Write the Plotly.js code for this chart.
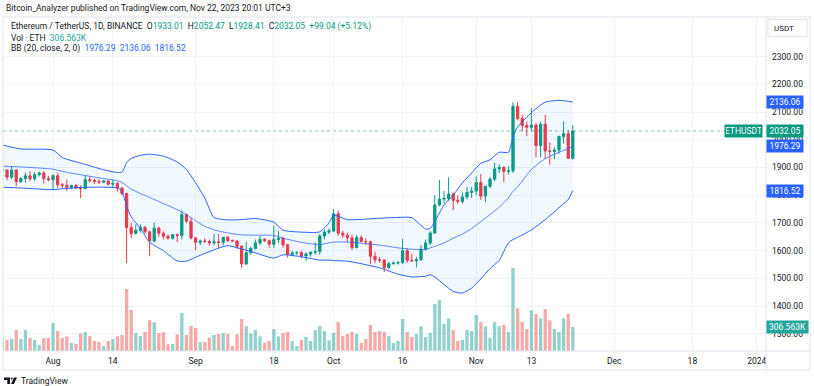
<!DOCTYPE html>
<html><head><meta charset="utf-8">
<script src="https://cdn.plot.ly/plotly-3.0.1.min.js"></script>
<style>html,body{margin:0;padding:0;background:#fff;}#chart{width:814px;height:386px;}</style>
</head><body><div id="chart"></div>
<script>
// ---- data (ETH/USDT daily, Jul 21 - Nov 22 2023) ----
const firstDay = '2023-07-21';
const opens = [
 1889,1891,1865,1891,1849,1860,1870,1859,1874,1880,1860,
 1856,1870,1838,1836,1828,1835,1826,1824,1856,1853,1850,1847,1851,1840,1843,1826,1806,1684,1662,1674,1684,1668,1635,1681,1663,1652,1645,1658,1654,1730,1706,
 1646,1630,1635,1633,1628,1632,1630,1648,1636,1635,1616,1552,1593,1608,1628,1641,1636,1623,1640,1645,1621,1586,1592,1593,1581,1588,1594,1597,1653,1667,
 1671,1733,1663,1656,1646,1611,1647,1633,1632,1580,1567,1566,1539,1553,1555,1557,1600,1565,1563,1567,1605,1628,1664,1765,1786,1788,1804,1782,1777,1794,1810,
 1815,1846,1797,1832,1858,1895,1900,1886,1888,2121,2077,2052,2045,2053,1979,2056,1960,1958,1963,2012,2022,1933.01];
const highs = [
 1907,1894,1905,1893,1866,1882,1887,1884,1885,1887,1870,
 1875,1880,1844,1856,1838,1841,1836,1873,1868,1860,1857,1855,1855,1856,1847,1830,1809,1700,1695,1695,1690,1672,1700,1687,1670,1658,1660,1662,1746,1734,1720,
 1650,1640,1645,1640,1660,1660,1650,1653,1640,1638,1620,1631,1614,1640,1653,1645,1640,1690,1670,1650,1625,1600,1598,1600,1594,1597,1630,1660,1676,1680,
 1750,1745,1672,1665,1658,1657,1655,1645,1636,1595,1578,1570,1560,1562,1563,1642,1610,1590,1578,1620,1640,1670,1800,1855,1815,1865,1810,1800,1810,1830,1830,
 1868,1876,1835,1865,1916,1912,1906,1905,2135,2136,2090,2066,2114,2060,2064,2090,1991,1972,2015,2067,2035,2052.47];
const lows = [
 1882,1854,1858,1833,1845,1845,1850,1852,1868,1842,1850,
 1819,1827,1826,1815,1822,1822,1790,1820,1845,1840,1840,1844,1835,1830,1813,1800,1555,1645,1658,1665,1660,1580,1630,1650,1640,1641,1640,1630,1640,1700,1640,
 1602,1620,1628,1618,1620,1610,1620,1630,1630,1605,1537,1548,1585,1605,1620,1630,1610,1610,1628,1610,1575,1580,1585,1572,1562,1578,1585,1585,1640,1660,
 1667,1653,1645,1630,1602,1608,1630,1620,1551,1555,1555,1523,1535,1550,1550,1553,1555,1560,1540,1563,1600,1620,1660,1760,1770,1780,1746,1770,1770,1785,1790,
 1800,1783,1775,1825,1850,1880,1847,1875,1880,2070,2030,2013,2030,1937,1937,1932,1910,1930,1950,1986,1931,1928.41];
const closes = [
 1891,1865,1891,1849,1860,1870,1859,1874,1880,1860,1856,
 1870,1838,1836,1828,1835,1826,1824,1856,1853,1850,1847,1851,1840,1843,1826,1806,1684,1662,1674,1684,1668,1635,1681,1663,1652,1645,1658,1654,1730,1706,1646,
 1630,1635,1633,1628,1632,1630,1648,1636,1635,1616,1552,1593,1608,1628,1641,1636,1623,1640,1645,1621,1586,1592,1593,1581,1588,1594,1597,1653,1667,1671,
 1733,1663,1656,1646,1611,1647,1633,1632,1580,1567,1566,1539,1553,1555,1557,1600,1565,1563,1567,1605,1628,1664,1765,1786,1788,1804,1782,1777,1794,1810,1815,
 1846,1797,1832,1858,1895,1900,1886,1888,2121,2077,2052,2045,2053,1979,2056,1960,1958,1963,2012,2022,1933.01,2032.05];
const volumesK = [
 170,140,153,268,153,268,166,140,77,162,166,
 358,255,166,187,102,89,221,243,191,128,115,64,128,153,187,204,792,524,230,191,243,392,366,230,238,85,89,213,485,204,319,
 294,111,115,166,204,217,230,217,64,213,409,319,221,268,187,102,128,281,187,230,243,128,64,140,179,128,268,319,255,136,
 230,370,191,217,243,217,102,153,332,243,255,243,191,102,128,409,243,179,217,315,179,230,600,651,345,417,268,128,140,268,255,
 460,370,315,166,370,319,332,243,1060,545,370,281,519,472,417,536,392,281,243,417,472,306.563];

const bbDates = ['2023-07-21','2023-07-25','2023-08-01','2023-08-03','2023-08-07','2023-08-12','2023-08-15','2023-08-16','2023-08-17','2023-08-18','2023-08-20','2023-08-22','2023-08-25','2023-08-28','2023-08-30','2023-09-01','2023-09-03','2023-09-05','2023-09-08','2023-09-11','2023-09-14','2023-09-18','2023-09-20','2023-09-24','2023-09-28','2023-09-30','2023-10-01','2023-10-04','2023-10-11','2023-10-15','2023-10-18','2023-10-21','2023-10-22','2023-10-23','2023-10-25','2023-10-27','2023-10-29','2023-10-31','2023-11-02','2023-11-04','2023-11-06','2023-11-08','2023-11-09','2023-11-10','2023-11-13','2023-11-16','2023-11-19','2023-11-21','2023-11-22'];
const bbUpper = [1981,1967,1963,1936,1916,1892,1882,1884,1918,1933,1944,1948,1941,1920,1893,1845,1790,1720,1711,1712,1716,1703,1674,1667,1668,1700,1728,1712,1717,1720,1719,1678,1680,1705,1765,1800,1845,1880,1915,1928,1955,1955,2010,2046,2098,2136,2142,2139,2136.06];
const bbBasis = [1905,1902,1894,1886,1874,1860,1852,1846,1834,1822,1806,1792,1770,1748,1730,1708,1688,1675,1664,1657,1656,1655,1645,1630,1622,1628,1631,1631,1620,1610,1605,1605,1610,1615,1628,1645,1660,1680,1705,1730,1757,1790,1814,1830,1893,1932,1955,1968,1976.29];
const bbLower = [1829,1826,1820,1823,1828,1829,1826,1813,1760,1722,1680,1630,1600,1563,1562,1576,1590,1603,1618,1606,1592,1573,1585,1578,1566,1566,1564,1562,1538,1515,1505,1508,1513,1505,1478,1453,1447,1465,1498,1535,1565,1628,1640,1648,1675,1712,1755,1785,1816.52];

const xTickVals = ['2023-08-01','2023-08-14','2023-09-01','2023-09-18','2023-10-01','2023-10-16','2023-11-01','2023-11-13','2023-12-01','2023-12-18','2024-01-01'];
const xTickText = ['Aug','14','Sep','18','Oct','16','Nov','13','Dec','18','2024'];
const yTickVals = [1300,1400,1500,1600,1700,1800,1900,2000,2100,2200,2300];

// ---- derived ----
const dates = [];
{ const t0 = Date.parse(firstDay + 'T00:00:00Z');
  for (let i = 0; i < closes.length; i++) dates.push(new Date(t0 + i*86400000).toISOString().slice(0,10)); }
const GREEN = '#089981', RED = '#f23645', BLUE = '#2962ff', TXT = '#131722', FRAME = '#e0e3eb';
const volColors = closes.map((c,i) => c >= opens[i] ? 'rgba(38,166,154,0.5)' : 'rgba(239,83,80,0.5)');
const n = closes.length;
const lastO = opens[n-1], lastH = highs[n-1], lastL = lows[n-1], lastC = closes[n-1], prevC = closes[n-2];
const chg = lastC - prevC, pct = chg/prevC*100;
const lastVol = volumesK[n-1];
const lastU = bbUpper[bbUpper.length-1], lastM = bbBasis[bbBasis.length-1], lastLo = bbLower[bbLower.length-1];
const f2 = v => v.toFixed(2);

// pixel helpers (plot area: x 3..766, y 17..351)
const PL = 3, PR = 766, PT = 17, PB = 351;
const px = p => (p - PL)/(PR - PL);
const py = p => (PB - p)/(PB - PT);
const FONT = 'Roboto, "Liberation Sans", Arial, sans-serif';
const NB = '\u00a0';
const g = s => '<span style="color:'+GREEN+'">'+s+'</span>';
const b = s => '<span style="color:'+BLUE+'">'+s+'</span>';

const traces = [
  {type:'bar', x:dates, y:volumesK, xaxis:'x', yaxis:'y', marker:{color:volColors, line:{width:0}}, hoverinfo:'skip', showlegend:false},
  {type:'scatter', mode:'lines', x:bbDates, y:bbUpper, xaxis:'x', yaxis:'y2', line:{color:BLUE, width:1, shape:'spline', smoothing:0.6}, opacity:0.75, hoverinfo:'skip', showlegend:false},
  {type:'scatter', mode:'lines', x:bbDates, y:bbLower, xaxis:'x', yaxis:'y2', line:{color:BLUE, width:1, shape:'spline', smoothing:0.6}, fill:'tonexty', fillcolor:'rgba(33,150,243,0.06)', opacity:0.75, hoverinfo:'skip', showlegend:false},
  {type:'scatter', mode:'lines', x:bbDates, y:bbBasis, xaxis:'x', yaxis:'y2', line:{color:BLUE, width:1, shape:'spline', smoothing:0.6}, opacity:0.75, hoverinfo:'skip', showlegend:false},
  {type:'candlestick', x:dates, open:opens, high:highs, low:lows, close:closes, xaxis:'x', yaxis:'y2',
   increasing:{line:{color:GREEN, width:1}, fillcolor:GREEN}, decreasing:{line:{color:RED, width:1}, fillcolor:RED},
   whiskerwidth:0, hoverinfo:'skip', showlegend:false}
];

const annotations = [
  {xref:'paper', yref:'paper', x:px(4), y:py(8), xanchor:'left', yanchor:'middle', showarrow:false,
   text:'Bitcoin_Analyzer published on TradingView.com, Nov 22, 2023 20:01 UTC+3', font:{family:FONT, size:8.5, color:TXT}},
  {xref:'paper', yref:'paper', x:px(9), y:py(26), xanchor:'left', yanchor:'middle', showarrow:false,
   text:'Ethereum / TetherUS, 1D, BINANCE'+NB+NB+'O'+g(f2(lastO))+NB+NB+'H'+g(f2(lastH))+NB+NB+'L'+g(f2(lastL))+NB+NB+'C'+g(f2(lastC))+NB+NB+g('+'+f2(chg)+' (+'+f2(pct)+'%)'),
   font:{family:FONT, size:8.5, color:TXT}},
  {xref:'paper', yref:'paper', x:px(9), y:py(37.5), xanchor:'left', yanchor:'middle', showarrow:false,
   text:'Vol · ETH'+NB+NB+'<span style="color:#26a69a">'+lastVol.toFixed(3)+'K</span>', font:{family:FONT, size:8.5, color:TXT}},
  {xref:'paper', yref:'paper', x:px(9), y:py(49), xanchor:'left', yanchor:'middle', showarrow:false,
   text:'BB (20, close, 2, 0)'+NB+NB+b(f2(lastM))+NB+NB+b(f2(lastU))+NB+NB+b(f2(lastLo)), font:{family:FONT, size:8.5, color:TXT}},
  // right-axis value labels
  {xref:'paper', yref:'y2', x:1, y:lastU, xanchor:'left', yanchor:'middle', showarrow:false, text:f2(lastU), bgcolor:BLUE, width:34, borderpad:1, font:{family:FONT, size:8.5, color:'#fff'}},
  {xref:'paper', yref:'y2', x:1, y:lastLo, xanchor:'left', yanchor:'middle', showarrow:false, text:f2(lastLo), bgcolor:BLUE, width:34, borderpad:1, font:{family:FONT, size:8.5, color:'#fff'}},
  {xref:'paper', yref:'y2', x:1, y:lastM, xanchor:'left', yanchor:'middle', showarrow:false, text:f2(lastM), bgcolor:BLUE, width:34, borderpad:1, font:{family:FONT, size:8.5, color:'#fff'}},
  {xref:'paper', yref:'y2', x:1, y:lastC, xanchor:'left', yanchor:'middle', showarrow:false, text:f2(lastC), bgcolor:GREEN, width:34, borderpad:1, font:{family:FONT, size:8.5, color:'#fff'}},
  {xref:'paper', yref:'y2', x:px(763), y:lastC, xanchor:'right', yanchor:'middle', showarrow:false, text:'ETHUSDT', bgcolor:GREEN, width:35, borderpad:1, font:{family:FONT, size:8.5, color:'#fff'}},
  {xref:'paper', yref:'y', x:1, y:lastVol, xanchor:'left', yanchor:'middle', showarrow:false, text:lastVol.toFixed(3)+'K', bgcolor:'#26a69a', width:39, borderpad:1, font:{family:FONT, size:8.5, color:'#fff'}},
  // USDT button text
  {xref:'paper', yref:'paper', x:px(784), y:py(28.5), xanchor:'center', yanchor:'middle', showarrow:false, text:'USDT', font:{family:FONT, size:8, color:TXT}},
  // footer
  {xref:'paper', yref:'paper', x:px(19), y:py(381), xanchor:'left', yanchor:'middle', showarrow:false, text:'TradingView', font:{family:FONT, size:8.5, color:TXT}}
];

const P = (x,y) => px(x).toFixed(5)+','+py(y).toFixed(5);
const shapes = [
  {type:'rect', xref:'paper', yref:'paper', x0:px(3), x1:px(810), y0:py(17), y1:py(370), line:{color:FRAME, width:1}, layer:'above'},
  {type:'line', xref:'paper', yref:'paper', x0:px(766), x1:px(766), y0:py(17), y1:py(370), line:{color:FRAME, width:1}, layer:'above'},
  {type:'line', xref:'paper', yref:'paper', x0:px(3), x1:px(810), y0:py(351), y1:py(351), line:{color:FRAME, width:1}, layer:'above'},
  {type:'rect', xref:'paper', yref:'paper', x0:px(768), x1:px(807), y0:py(19.5), y1:py(36.5), line:{color:FRAME, width:1}, fillcolor:'#fff', layer:'above'},
  {type:'line', xref:'paper', yref:'y2', x0:0, x1:1, y0:lastC, y1:lastC, line:{color:'rgba(8,153,129,0.55)', width:1, dash:'dot'}, layer:'below'},
  // TradingView logo
  {type:'path', xref:'paper', yref:'paper', path:'M'+P(4,377.5)+' L'+P(10,377.5)+' L'+P(10,384)+' L'+P(7.3,384)+' L'+P(7.3,380)+' L'+P(4,380)+' Z', fillcolor:TXT, line:{width:0}, layer:'above'},
  {type:'circle', xref:'paper', yref:'paper', x0:px(10.6), x1:px(12.8), y0:py(377.4), y1:py(379.6), fillcolor:TXT, line:{width:0}, layer:'above'},
  {type:'path', xref:'paper', yref:'paper', path:'M'+P(14,377.5)+' L'+P(17,377.5)+' L'+P(14,384)+' L'+P(11,384)+' Z', fillcolor:TXT, line:{width:0}, layer:'above'}
];

const layout = {
  width:814, height:386,
  margin:{l:PL, r:814-PR, t:PT, b:386-PB},
  paper_bgcolor:'#fff', plot_bgcolor:'#fff',
  font:{family:FONT, size:8.5, color:TXT},
  showlegend:false, bargap:0.28, dragmode:false, hovermode:false,
  xaxis:{type:'date', range:['2023-07-21 03:00','2024-01-03 00:00'], tickmode:'array', tickvals:xTickVals, ticktext:xTickText,
         showgrid:true, gridcolor:'#f0f3fa', gridwidth:1, zeroline:false, showline:false, ticks:'', ticklabelstandoff:3,
         tickfont:{family:FONT, size:8.5, color:TXT}, rangeslider:{visible:false}, fixedrange:true},
  yaxis:{range:[0, 4266], visible:false, showgrid:false, zeroline:false, fixedrange:true},
  yaxis2:{overlaying:'y', side:'right', range:[1238, 2443], tickmode:'array', tickvals:yTickVals, ticktext:yTickVals.map(v=>v.toFixed(2)),
          showgrid:true, gridcolor:'#f0f3fa', gridwidth:1, zeroline:false, showline:false, ticks:'', ticklabelstandoff:5,
          tickfont:{family:FONT, size:8.5, color:TXT}, fixedrange:true},
  annotations:annotations, shapes:shapes
};

Plotly.newPlot('chart', traces, layout, {staticPlot:true, displayModeBar:false});
</script></body></html>
